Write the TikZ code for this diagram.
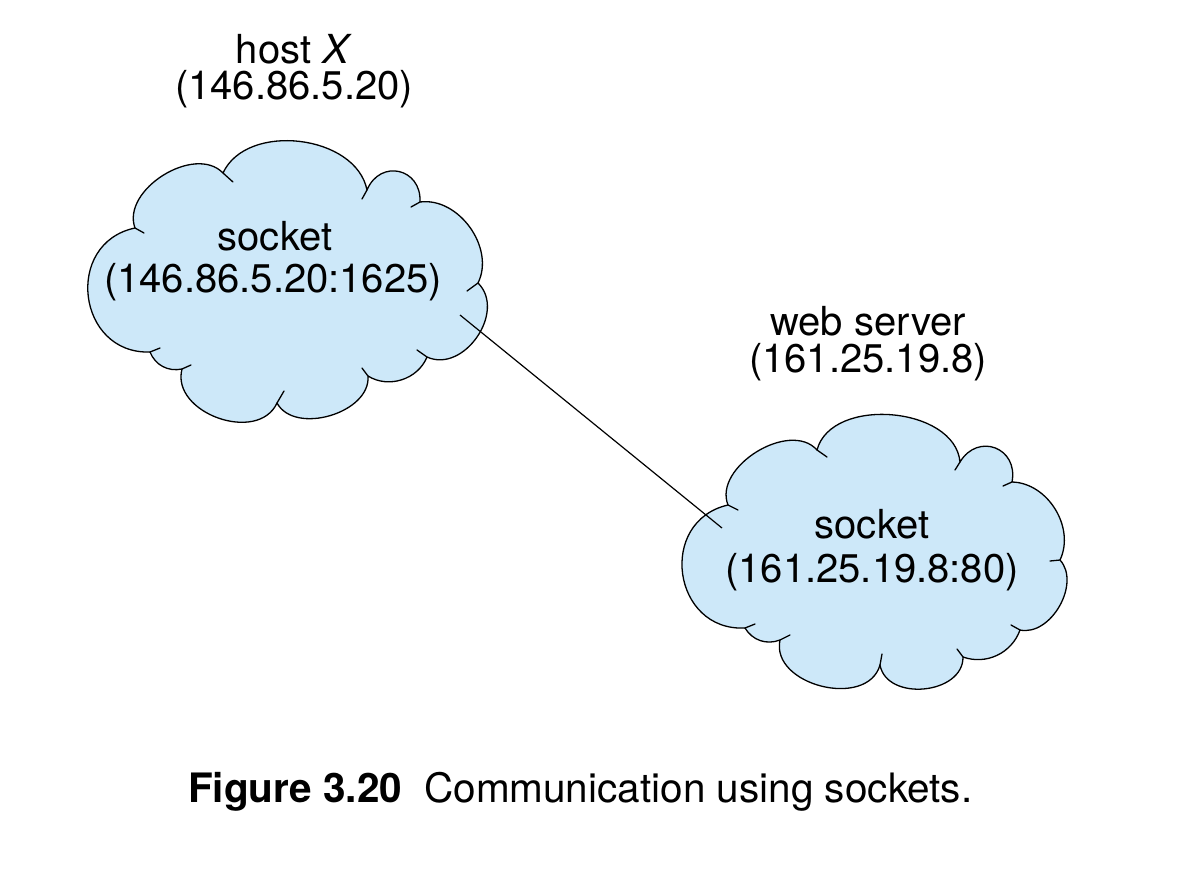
\documentclass[tikz,border=0pt]{standalone}
\usepackage{fontspec}
\setmainfont{TeX Gyre Heros}
\definecolor{cloudblue}{RGB}{205,232,249}
\tikzset{
  cloudshape/.style={fill=cloudblue, draw=black, line width=1.3pt, line join=round},
  tickline/.style={draw=black, line width=1.3pt, line cap=round},
  conn/.style={draw=black, line width=1.2pt},
  lbl/.style={font=\fontsize{40}{44}\selectfont, inner sep=0pt, anchor=base}
}
\begin{document}
\begin{tikzpicture}[x=1pt,y=-1pt]
\useasboundingbox (0,0) rectangle (1180,868);
% cloud of host X
\path[cloudshape] (223,173) to[bend left=72] (367,190)
  to[bend left=80,looseness=1.6] (420,202)
  to[bend left=62] (478,283)
  to[bend left=80,looseness=1.15] (427,357)
  to[bend left=50] (368,376)
  to[bend left=78] (277,403)
  to[bend left=85,looseness=1.15] (182,369)
  to[bend left=40] (150,352)
  to[bend left=85,looseness=1.5] (135,228)
  to[bend left=78] (223,173) -- cycle;
\draw[tickline] (223,173) -- (233,182);
\draw[tickline] (367,190) -- (362,199);
\draw[tickline] (420,202) -- (411,207);
\draw[tickline] (478,283) -- (467,291);
\draw[tickline] (427,357) -- (417,350);
\draw[tickline] (368,376) -- (362,368);
\draw[tickline] (277,403) -- (284,391);
\draw[tickline] (182,369) -- (191,365);
\draw[tickline] (150,352) -- (160,348);
\draw[tickline] (135,228) -- (144,233);
% cloud of web server
\path[cloudshape] (817,450) to[bend left=80] (960,462)
  to[bend left=80,looseness=1.6] (1012,482)
  to[bend left=57] (1060,560)
  to[bend left=72] (1020,630)
  to[bend left=45] (963,657)
  to[bend left=85,looseness=1.15] (880,665)
  to[bend left=88,looseness=1.15] (780,640)
  to[bend left=40] (745,628)
  to[bend left=85,looseness=1.5] (728,505)
  to[bend left=80] (817,450) -- cycle;
\draw[tickline] (817,450) -- (827,457);
\draw[tickline] (960,462) -- (955,470);
\draw[tickline] (1012,482) -- (1003,486);
\draw[tickline] (1060,560) -- (1050,561);
\draw[tickline] (1020,630) -- (1011,625);
\draw[tickline] (963,657) -- (957,649);
\draw[tickline] (880,665) -- (882,654);
\draw[tickline] (780,640) -- (790,635);
\draw[tickline] (745,628) -- (755,624);
\draw[tickline] (728,505) -- (738,510);
% connector
\coordinate (endA) at (460,315);
\coordinate (endB) at (722,528);
\draw[conn] (endA) -- (endB);
% labels
\node[lbl] (hostname) at (294,63) {host \textit{X}};
\node[lbl] (hostip) at (294,99) {(146.86.5.20)};
\node[lbl] (sockA1) at (275,250) {socket};
\node[lbl] (sockA2) at (273,292) {(146.86.5.20:1625)};
\node[lbl] (web1) at (868,335) {web server};
\node[lbl] (web2) at (868,372) {(161.25.19.8)};
\node[lbl] (sockB1) at (872,538) {socket};
\node[lbl] (sockB2) at (872,582) {(161.25.19.8:80)};
\node[lbl, font=\fontsize{40.5}{44}\selectfont, anchor=base west] (caption) at (188,802) {\textbf{Figure 3.20}\hspace{22pt}Communication using sockets.};
\end{tikzpicture}
\end{document}
